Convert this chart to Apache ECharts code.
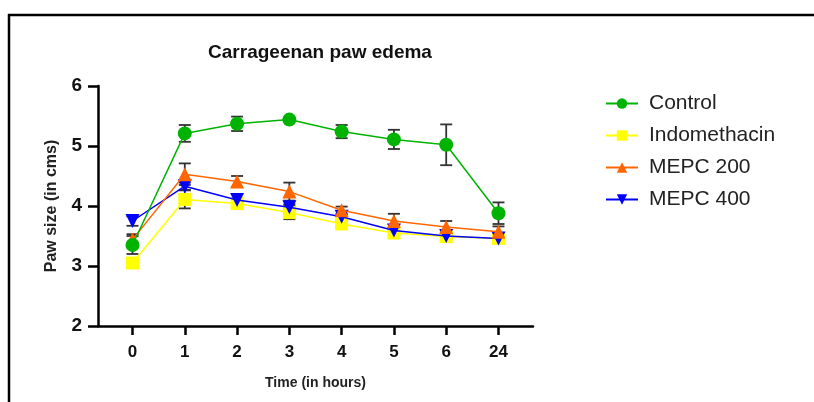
<!DOCTYPE html>
<html>
<head>
<meta charset="utf-8">
<script src="https://cdn.jsdelivr.net/npm/echarts@6/dist/echarts.min.js"></script>
<style>
html,body{margin:0;padding:0;background:#fff;}
#chart{width:814px;height:402px;}
</style>
</head>
<body>
<div id="chart"></div>
<script>
const categories = ['0','1','2','3','4','5','6','24'];
const seriesNames = ['Control','Indomethacin','MEPC 200','MEPC 400'];
const control = [3.35,5.21,5.37,5.44,5.24,5.11,5.02,3.88];
const controlErr = [0.15,0.14,0.12,0.03,0.11,0.16,0.34,0.18];
const indo = [3.05,4.11,4.04,3.89,3.70,3.55,3.49,3.46];
const indoErr = [0.04,0.15,0.05,0.11,0.05,0.05,0.04,0.04];
const mepc200 = [3.44,4.53,4.41,4.24,3.93,3.75,3.65,3.57];
const mepc200Err = [0.09,0.18,0.09,0.15,0.06,0.12,0.1,0.09];
const mepc400 = [3.75,4.33,4.10,3.98,3.82,3.59,3.50,3.46];
const mepc400Err = [0.08,0.06,0.03,0.05,0.04,0.04,0.03,0.03];
const yTicks = [2,3,4,5,6];

const colors = ['#00b300','#ffff00','#ff6600','#0000ff'];
const symbols = ['circle','rect','triangle','path://M0,0 L10,0 L5,9 Z'];
const symbolSizes = [14,13,14,14];
const values = [control, indo, mepc200, mepc400];
const errs = [controlErr, indoErr, mepc200Err, mepc400Err];

const chart = echarts.init(document.getElementById('chart'), null, {renderer:'canvas'});

const series = [];
values.forEach((vals, si) => {
  series.push({
    type: 'custom',
    name: seriesNames[si] + ' err',
    z: 1,
    silent: true,
    data: vals.map((v, i) => [i, v - errs[si][i], v + errs[si][i]]),
    renderItem: function(params, api) {
      const x = api.value(0);
      const lo = api.coord([x, api.value(1)]);
      const hi = api.coord([x, api.value(2)]);
      const hw = 6;
      const style = {stroke: '#333', lineWidth: 1.8};
      return {
        type: 'group',
        children: [
          {type:'line', shape:{x1:lo[0], y1:lo[1], x2:hi[0], y2:hi[1]}, style},
          {type:'line', shape:{x1:lo[0]-hw, y1:lo[1], x2:lo[0]+hw, y2:lo[1]}, style},
          {type:'line', shape:{x1:hi[0]-hw, y1:hi[1], x2:hi[0]+hw, y2:hi[1]}, style}
        ]
      };
    }
  });
});
const zOrder = [6,3,5,4];
values.forEach((vals, si) => {
  series.push({
    type: 'line',
    name: seriesNames[si],
    z: zOrder[si],
    data: vals.map((v, i) => [i, v]),
    symbol: symbols[si],
    symbolSize: symbolSizes[si],
    showAllSymbol: true,
    lineStyle: {color: colors[si], width: 1.5},
    itemStyle: {color: colors[si], borderWidth: 0},
    emphasis: {disabled: true},
    animation: false
  });
});

const font = 'Liberation Sans, Arial, sans-serif';
chart.setOption({
  animation: false,
  backgroundColor: '#fff',
  title: {
    text: 'Carrageenan paw edema',
    left: 315, top: 38, textAlign: 'center',
    textStyle: {fontFamily: font, fontWeight: 'bold', fontSize: 19, color: '#111'}
  },
  legend: {
    orient: 'vertical',
    left: 600, top: 88,
    itemWidth: 32, itemHeight: 13,
    itemGap: 11,
    data: seriesNames,
    textStyle: {fontFamily: font, fontSize: 21, color: '#222', padding: [0,0,0,6]}
  },
  grid: {left: 98, right: 281, top: 86, bottom: 76, containLabel: false},
  xAxis: {
    type: 'value',
    min: -0.66, max: 7.66,
    name: 'Time (in hours)',
    nameLocation: 'middle',
    nameGap: 50,
    nameTextStyle: {fontFamily: font, fontWeight: 'bold', fontSize: 14, color: '#222'},
    axisLine: {onZero: false, lineStyle: {color: '#000', width: 2.5}},
    axisTick: {show: true, length: 9, lineStyle: {color: '#000', width: 2.5}, customValues: [0,1,2,3,4,5,6,7]},
    axisLabel: {customValues: [0,1,2,3,4,5,6,7], formatter: v => categories[Math.round(v)], margin: 18,
      fontFamily: font, fontWeight: 'bold', fontSize: 17, color: '#111'},
    splitLine: {show: false}
  },
  yAxis: {
    type: 'value',
    min: yTicks[0], max: yTicks[yTicks.length-1], interval: 1,
    name: 'Paw size (in cms)',
    nameLocation: 'middle',
    nameGap: 38,
    nameTextStyle: {fontFamily: font, fontWeight: 'bold', fontSize: 16, color: '#222'},
    axisLine: {show: true, onZero: false, lineStyle: {color: '#000', width: 2.5}},
    axisTick: {show: true, length: 10, lineStyle: {color: '#000', width: 2.5}},
    axisLabel: {margin: 16, fontFamily: font, fontWeight: 'bold', fontSize: 19, color: '#111'},
    splitLine: {show: false}
  },
  graphic: [
    {type:'line', shape:{x1:8, y1:15, x2:814, y2:15}, style:{stroke:'#000', lineWidth:2.5}, z: 100},
    {type:'line', shape:{x1:9, y1:14, x2:9, y2:402}, style:{stroke:'#000', lineWidth:2.5}, z: 100}
  ],
  series: series
});
</script>
</body>
</html>
